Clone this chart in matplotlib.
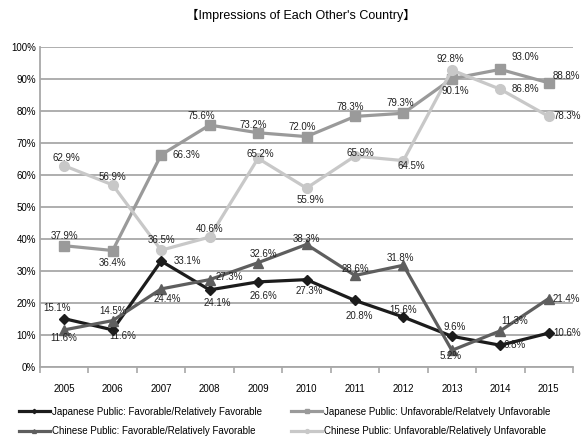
import matplotlib
matplotlib.use("Agg")
import matplotlib.pyplot as plt
import numpy as np

years = ["2005", "2006", "2007", "2008", "2009", "2010", "2011", "2012", "2013", "2014", "2015"]
jp_fav = [15.1, 11.6, 33.1, 24.1, 26.6, 27.3, 20.8, 15.6, 9.6, 6.8, 10.6]
jp_unfav = [37.9, 36.4, 66.3, 75.6, 73.2, 72.0, 78.3, 79.3, 90.1, 93.0, 88.8]
cn_fav = [11.6, 14.5, 24.4, 27.3, 32.6, 38.3, 28.6, 31.8, 5.2, 11.3, 21.4]
cn_unfav = [62.9, 56.9, 36.5, 40.6, 65.2, 55.9, 65.9, 64.5, 92.8, 86.8, 78.3]
series_names = ["Japanese Public: Favorable/Relatively Favorable",
                "Japanese Public: Unfavorable/Relatvely Unfavorable",
                "Chinese Public: Favorable/Relatively Favorable",
                "Chinese Public: Unfavorable/Relatively Unfavorable"]
yticks = [0, 10, 20, 30, 40, 50, 60, 70, 80, 90, 100]

FONT = ["Liberation Sans", "DejaVu Sans"]
plt.rcParams["font.family"] = FONT

W, H = 583, 442
fig = plt.figure(figsize=(W / 100, H / 100), dpi=100)
left, right, top, bottom = 40, 573, 47, 367
ax = fig.add_axes([left / W, 1 - bottom / H, (right - left) / W, (bottom - top) / H])

x = np.arange(len(years))
styles = [
    (jp_fav, "#1c1c1c", "D", 5.5),
    (jp_unfav, "#9a9a9a", "s", 7),
    (cn_fav, "#5e5e5e", "^", 7),
    (cn_unfav, "#c8c8c8", "o", 7),
]
# label offsets in pixels
offsets = [
    [(-7, 11), (10, -6), (26, 0), (8, -13), (5, -14), (3, -11), (4, -16), (0, 7), (3, 9), (14, 0), (18, 0)],
    [(0, 10), (0, -12), (25, 0), (-8, 9), (-5, 8), (-4, 10), (-5, 9), (-3, 10), (3, -12), (25, 12), (18, 7)],
    [(0, -8), (0, 10), (6, -10), (20, 3), (5, 9), (0, 5), (0, 6), (-3, 7), (-1, -6), (14, 10), (18, 0)],
    [(2, 8), (0, 8), (0, 10), (0, 8), (2, 4), (4, -12), (5, 3), (8, -5), (-2, 11), (25, 0), (18, 0)],
]

ax.set_xlim(-0.5, len(years) - 0.5)
ax.set_ylim(0, 100)
ax.set_yticks(yticks)
ax.set_yticklabels([f"{v}%" for v in yticks], fontsize=7)
ax.grid(axis="y", color="#a8a8a8", linewidth=1.3)
ax.set_axisbelow(True)
ax.set_xticks(x)
ax.set_xticklabels(years, fontsize=7)
ax.set_xticks(np.arange(-0.5, len(years)), minor=True)
ax.tick_params(axis="x", which="major", length=0, pad=12)
ax.tick_params(axis="x", which="minor", length=4, color="#a8a8a8", width=1.2)
ax.tick_params(axis="y", length=0, pad=3)
for s in ["top", "right"]:
    ax.spines[s].set_visible(False)
ax.spines["left"].set_color("#a8a8a8")
ax.spines["left"].set_linewidth(1.3)
ax.spines["bottom"].set_color("#a8a8a8")
ax.spines["bottom"].set_linewidth(1.3)

handles = []
for (vals, col, mk, ms), name, offs in zip(styles, series_names, offsets):
    h, = ax.plot(x, vals, color=col, marker=mk, markersize=ms, linewidth=2.3, label=name, zorder=3)
    handles.append(h)
    for xi, v, (dx, dy) in zip(x, vals, offs):
        ax.annotate(f"{v:.1f}%", (xi, v), xytext=(dx, dy), textcoords="offset pixels",
                    ha="center", va="center", fontsize=7, color="#222222", zorder=4)

fig.text(301 / W, 1 - 15 / H, "【Impressions of Each Other's Country】", ha="center", va="center",
         fontsize=9, family=["Liberation Sans", "Noto Sans CJK JP", "DejaVu Sans"])

leg = fig.legend(handles=[handles[0], handles[2], handles[1], handles[3]], loc="upper left",
                 bbox_to_anchor=(10 / W, 1 - 398 / H), ncol=2, frameon=False, fontsize=7,
                 columnspacing=3.0, handlelength=3.2, handletextpad=0.2, labelspacing=1.0,
                 markerscale=0.4)

fig.savefig("out.png", dpi=100)
